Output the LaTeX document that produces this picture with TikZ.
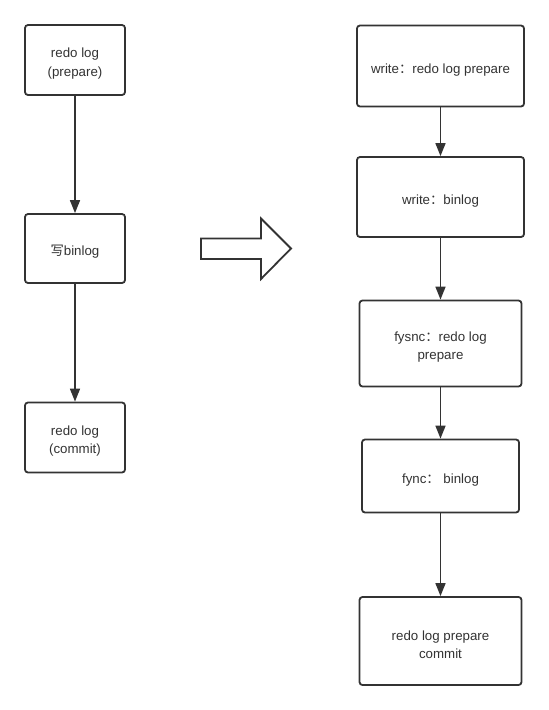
\documentclass[tikz,border=0pt]{standalone}
\usepackage{fontspec}
\setmainfont{Liberation Sans}
\newfontfamily\cjk{Noto Sans CJK SC}
\usetikzlibrary{arrows.meta}
\definecolor{ink}{HTML}{333333}
\newcommand{\lowr}{\rule{0pt}{17pt}}
\tikzset{
  box/.style={draw=ink, line width=1.8pt, rounded corners=3pt, fill=white,
    text=ink, align=center, inner sep=0pt,
    font=\fontsize{13.3}{18.5}\selectfont},
  flow/.style={draw=ink, line width=1.6pt, -{Triangle[length=13pt,width=10pt]}},
  bigarrow/.style={draw=ink, line width=1.8pt, fill=white, line join=miter}
}
\begin{document}
\begin{tikzpicture}[x=1pt,y=-1pt]
\useasboundingbox (0,0) rectangle (549,710);
% left column
\node[box, minimum width=100pt, minimum height=70pt] (l1) at (75,60) {\lowr redo log\\(prepare)};
\node[box, minimum width=100pt, minimum height=69pt] (l2) at (75,248.5) {\lowr{\cjk 写}binlog};
\node[box, minimum width=100pt, minimum height=70pt] (l3) at (75,437.5) {\lowr redo log\\(commit)};
\draw[flow] (l1.south) -- (l2.north);
\draw[flow] (l2.south) -- (l3.north);
% big arrow
\draw[bigarrow] (201,238.5) -- (261,238.5) -- (261,218.5) -- (291,248.5) -- (261,279) -- (261,259) -- (201,259) -- cycle;
% right column
\node[box, minimum width=167pt, minimum height=81pt] (r1) at (440.5,66) {\lowr write{\cjk ：}redo log prepare};
\node[box, minimum width=167pt, minimum height=80pt] (r2) at (440.5,197) {\lowr write{\cjk ：}binlog};
\node[box, minimum width=162pt, minimum height=86pt] (r3) at (440.5,343.5) {\lowr fysnc{\cjk ：}redo log\\prepare};
\node[box, minimum width=157pt, minimum height=73pt] (r4) at (440.5,476) {\lowr fync{\cjk ：} binlog};
\node[box, minimum width=162pt, minimum height=88pt] (r5) at (440.5,641) {\lowr redo log prepare\\commit};
\draw[flow] (r1.south) -- (r2.north);
\draw[flow] (r2.south) -- (r3.north);
\draw[flow] (r3.south) -- (r4.north);
\draw[flow] (r4.south) -- (r5.north);
\end{tikzpicture}
\end{document}
